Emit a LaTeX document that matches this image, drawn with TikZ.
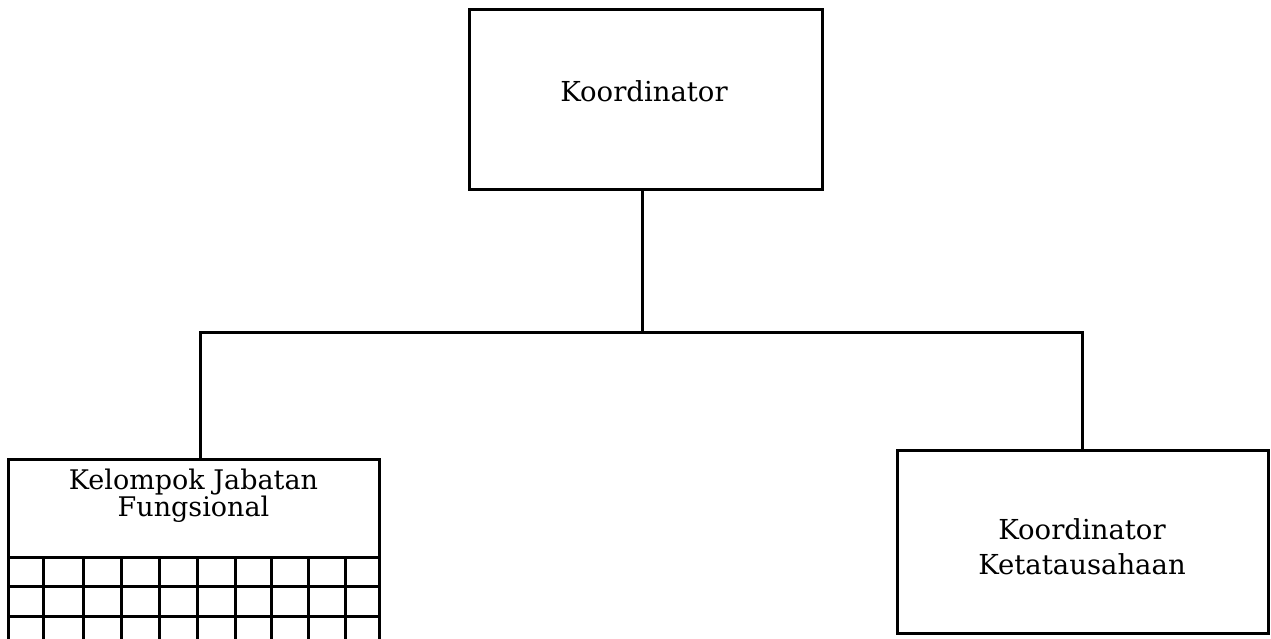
\documentclass[tikz,border=0pt]{standalone}
\usepackage{fontspec}
\setmainfont{DejaVu Serif}
\begin{document}
\begin{tikzpicture}[x=1pt,y=-1pt,line width=3pt,
  box/.style={draw,rectangle,inner sep=0pt},
  lbl/.style={font=\fontsize{27.5}{35}\selectfont,align=center,inner sep=0pt},
  lbltight/.style={font=\fontsize{27}{24}\selectfont,align=center,inner sep=0pt},
  gridline/.style={line width=3pt}]
\useasboundingbox (0,0) rectangle (1271,638);
% boxes
\node[box,minimum width=353pt,minimum height=180pt] (top) at (645.5,99) {};
\node[lbl] (toptext) at (644,91) {Koordinator};
\node[box,minimum width=371pt,minimum height=183pt] (tu) at (1082.5,541.5) {};
\node[lbl] (tutext) at (1082,546.5) {Koordinator\\Ketatausahaan};
\node[box,minimum width=371pt,minimum height=98pt] (kjf) at (193.5,508) {};
\node[lbltight] (kjftext) at (193.5,496) {Kelompok Jabatan\\Fungsional};
% grid of the functional group
\foreach \gx in {8,43.5,83.5,121,159.5,197,235,271.5,308,345,379}
  \draw[gridline] (\gx,557) -- (\gx,640);
\foreach \gy in {586,616}
  \draw[gridline] (8,\gy) -- (379,\gy);
% connectors
\coordinate (j) at (642,332);
\coordinate (hl) at (200,332);
\coordinate (hr) at (1082,332);
\draw (top.south -| j) -- (j);
\draw (kjf.north -| hl) -- (hl) -- (hr) -- (tu.north -| hr);
\end{tikzpicture}
\end{document}
